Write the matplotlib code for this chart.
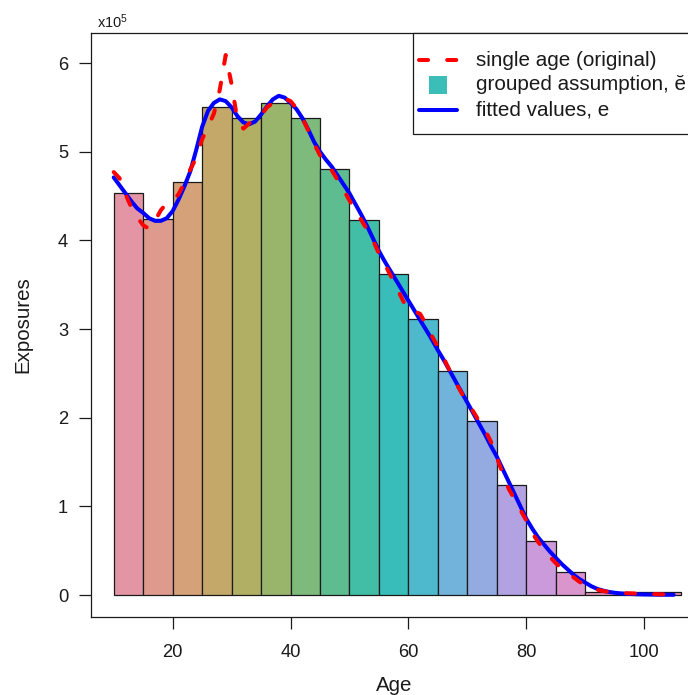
import numpy as np
import matplotlib
matplotlib.use("Agg")
import matplotlib.pyplot as plt
from matplotlib.patches import Rectangle
from matplotlib.lines import Line2D

plt.rcParams['font.family'] = ['Liberation Sans', 'DejaVu Sans']
plt.rcParams['mathtext.fontset'] = 'custom'
plt.rcParams['mathtext.rm'] = 'Liberation Sans'
plt.rcParams['mathtext.it'] = 'Liberation Sans'

# ---------------- data (units of 1e5) ----------------
ages = list(range(10, 106))
single_age = [4.77, 4.70, 4.52, 4.37, 4.26, 4.17, 4.13, 4.22, 4.34, 4.42,
              4.45, 4.52, 4.65, 4.80, 4.93, 5.14, 5.28, 5.43, 5.70, 6.09,
              5.76, 5.35, 5.26, 5.32, 5.37, 5.41, 5.50, 5.55, 5.59, 5.60,
              5.57, 5.49, 5.38, 5.24, 5.09, 4.96, 4.86, 4.79, 4.68, 4.57,
              4.45, 4.34, 4.23, 4.12, 4.00, 3.85, 3.73, 3.60, 3.47, 3.33,
              3.21, 3.20, 3.17, 3.05, 2.92, 2.80, 2.67, 2.53, 2.40, 2.28,
              2.18, 2.07, 1.96, 1.86, 1.73, 1.55, 1.37, 1.20, 1.08, 0.96,
              0.84, 0.70, 0.60, 0.51, 0.43, 0.36, 0.30, 0.25, 0.20, 0.15,
              0.11, 0.08, 0.06, 0.045, 0.035, 0.03, 0.025, 0.02, 0.018, 0.015,
              0.012, 0.01, 0.01, 0.008, 0.006, 0.005]
fitted = [4.71, 4.62, 4.53, 4.44, 4.36, 4.31, 4.25, 4.22, 4.22, 4.25,
          4.33, 4.46, 4.61, 4.78, 5.02, 5.28, 5.46, 5.55, 5.59, 5.57,
          5.50, 5.40, 5.33, 5.31, 5.34, 5.42, 5.51, 5.59, 5.63, 5.61,
          5.55, 5.48, 5.38, 5.25, 5.11, 5.00, 4.91, 4.83, 4.73, 4.63,
          4.53, 4.41, 4.29, 4.16, 4.02, 3.88, 3.76, 3.65, 3.54, 3.43,
          3.32, 3.21, 3.10, 2.99, 2.88, 2.76, 2.65, 2.53, 2.41, 2.29,
          2.17, 2.05, 1.93, 1.81, 1.68, 1.56, 1.42, 1.28, 1.14, 1.00,
          0.86, 0.75, 0.65, 0.57, 0.49, 0.42, 0.35, 0.29, 0.23, 0.18,
          0.14, 0.10, 0.07, 0.05, 0.035, 0.025, 0.018, 0.013, 0.01, 0.008,
          0.006, 0.005, 0.004, 0.003, 0.003, 0.002]
group_edges = [10, 15, 20, 25, 30, 35, 40, 45, 50, 55, 60, 65, 70, 75, 80, 85, 90, 106.3]
group_values = [4.53, 4.24, 4.66, 5.50, 5.38, 5.55, 5.38, 4.81, 4.23, 3.62,
                3.11, 2.53, 1.96, 1.24, 0.61, 0.26, 0.03]
x_ticks = [20, 40, 60, 80, 100]
y_ticks = [0, 1, 2, 3, 4, 5, 6]
legend_labels = ["single age (original)", "grouped assumption, \u0115", "fitted values, e"]


def hcl_color(h, c=50.0, l=70.0):
    hr = np.deg2rad(h)
    u = c * np.cos(hr)
    v = c * np.sin(hr)
    Y = 100.0 * ((l + 16) / 116.0) ** 3
    un, vn = 0.1978398, 0.4683363
    up = u / (13 * l) + un
    vp = v / (13 * l) + vn
    X = 9.0 * Y * up / (4 * vp)
    Z = -X / 3.0 - 5 * Y + 3 * Y / vp
    X, Y, Z = X / 100, Y / 100, Z / 100
    r = 3.240479 * X - 1.537150 * Y - 0.498535 * Z
    g = -0.969256 * X + 1.875992 * Y + 0.041556 * Z
    b = 0.055648 * X - 0.204043 * Y + 1.057311 * Z
    out = []
    for ch in (r, g, b):
        ch = 12.92 * ch if ch <= 0.0031308 else 1.055 * ch ** (1 / 2.4) - 0.055
        out.append(min(max(ch, 0), 1))
    return tuple(out)


W, H = 688, 695
fig = plt.figure(figsize=(W / 100, H / 100), dpi=100)

# axes placement in pixels
ax_l, ax_r, ax_t, ax_b = 91, 704, 33.4, 616.6
ax = fig.add_axes([ax_l / W, 1 - ax_b / H, (ax_r - ax_l) / W, (ax_b - ax_t) / H])

n = len(group_values)
colors = [hcl_color(i * 360.0 / n) for i in range(n)]
lefts = group_edges[:-1]
widths = [group_edges[i + 1] - group_edges[i] for i in range(n)]
ax.bar(lefts, group_values, width=widths, align='edge', color=colors,
       edgecolor='#1a1a1a', linewidth=0.9, zorder=2)

LW = 2.9
DASH = (0, (2.25, 4.75))
ax.plot(ages, fitted, color='#0000FF', lw=LW, solid_capstyle='round', zorder=3)
ax.plot(ages, single_age, color='#FF0000', lw=LW, linestyle=DASH,
        dash_capstyle='round', zorder=4)

ax.set_xlim(6.147, 110.15)
ax.set_ylim(-0.2436, 6.334)
ax.set_xticks(x_ticks)
ax.set_yticks(y_ticks)
ax.set_xticklabels([str(t) for t in x_ticks])
ax.set_yticklabels([str(t) for t in y_ticks])
ax.tick_params(axis='both', direction='out', length=8.5, width=0.9, labelsize=13.2,
               colors='#1a1a1a', labelcolor='#1a1a1a')
ax.tick_params(axis='x', pad=11)
ax.tick_params(axis='y', pad=8)
for s in ax.spines.values():
    s.set_linewidth(0.9)
    s.set_color('#1a1a1a')

fig.text(394 / W, 1 - 691 / H, "Age", ha='center', va='baseline', fontsize=14.8, color='#1a1a1a')
fig.text(28.5 / W, 1 - 325 / H, "Exposures", ha='center', va='baseline', rotation=90,
         rotation_mode='anchor', fontsize=14.8, color='#1a1a1a')
fig.text(97 / W, 1 - 28 / H, r"x10$^{5}$", ha='left', va='baseline', fontsize=10.5, color='#1a1a1a')


def fx(px):
    return px / W


def fy(py):
    return 1 - py / H


# legend drawn manually
fig.patches.append(Rectangle((fx(413.3), fy(134.3)), fx(720) - fx(413.3), fy(33.4) - fy(134.3),
                             transform=fig.transFigure, facecolor='white', edgecolor='#1a1a1a',
                             linewidth=0.9, zorder=10))
fig.lines.append(Line2D([fx(419), fx(457)], [fy(59.5), fy(59.5)], transform=fig.transFigure,
                        color='#FF0000', lw=LW, linestyle=DASH, dash_capstyle='round',
                        zorder=11))
fig.patches.append(Rectangle((fx(429), fy(93.5)), fx(447) - fx(429), fy(76) - fy(93.5),
                             transform=fig.transFigure, facecolor='#3BBEB8', edgecolor='none',
                             zorder=11))
fig.lines.append(Line2D([fx(419), fx(457)], [fy(109.5), fy(109.5)], transform=fig.transFigure,
                        color='#0000FF', lw=LW, solid_capstyle='round', zorder=11))
for yy, lab in zip([60, 85, 109.5], legend_labels):
    fig.text(fx(476), fy(yy), lab, ha='left', va='center', fontsize=14.9, color='#1a1a1a', zorder=12)

fig.savefig("out.png", dpi=100)
